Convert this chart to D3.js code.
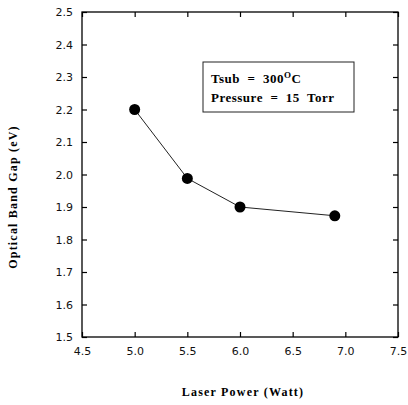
<!DOCTYPE html>
<html>
<head>
<meta charset="utf-8">
<script src="https://cdn.jsdelivr.net/npm/d3@7"></script>
<style>
  body { margin: 0; background: #fff; }
  .legend-text { white-space: pre; }
</style>
</head>
<body>
<svg id="chart"></svg>
<script>
// data
const laserPower = [5.0, 5.5, 6.0, 6.9];
const bandGap = [2.2, 1.988, 1.9, 1.873];
const xTicks = [4.5, 5.0, 5.5, 6.0, 6.5, 7.0, 7.5];
const yTicks = [1.5, 1.6, 1.7, 1.8, 1.9, 2.0, 2.1, 2.2, 2.3, 2.4, 2.5];
const legendLines = ["Tsub  =  300", "Pressure  =  15  Torr"];

const width = 408, height = 405;
const plotLeft = 82, plotRight = 398, plotTop = 12, plotBottom = 337;

const svg = d3.select("#chart").attr("width", width).attr("height", height);

const xScale = d3.scaleLinear().domain([4.5, 7.5]).range([plotLeft, plotRight]);
const yScale = d3.scaleLinear().domain([1.5, 2.5]).range([plotBottom, plotTop]);

// frame
svg.append("rect")
  .attr("x", plotLeft).attr("y", plotTop)
  .attr("width", plotRight - plotLeft).attr("height", plotBottom - plotTop)
  .attr("fill", "none").attr("stroke", "#000").attr("stroke-width", 1.3);

// axes (ticks pointing inwards)
const tickFont = "'DejaVu Sans', sans-serif";
const xAxis = d3.axisBottom(xScale).tickValues(xTicks).tickSizeInner(-5).tickSizeOuter(0)
  .tickPadding(10).tickFormat(d3.format(".1f"));
const gx = svg.append("g").attr("transform", `translate(0,${plotBottom})`).call(xAxis);

const yAxis = d3.axisLeft(yScale).tickValues(yTicks).tickSizeInner(-5).tickSizeOuter(0)
  .tickPadding(9).tickFormat(d3.format(".1f"));
const gy = svg.append("g").attr("transform", `translate(${plotLeft},0)`).call(yAxis);

const gyr = svg.append("g").attr("transform", `translate(${plotRight},0)`)
  .call(d3.axisRight(yScale).tickValues(yTicks).tickSizeInner(-5).tickSizeOuter(0).tickFormat(""));
const gxt = svg.append("g").attr("transform", `translate(0,${plotTop})`)
  .call(d3.axisTop(xScale).tickValues(xTicks).tickSizeInner(-5).tickSizeOuter(0).tickFormat(""));

[gx, gy, gyr, gxt].forEach(g => {
  g.select(".domain").remove();
  g.selectAll("line").attr("stroke", "#000").attr("stroke-width", 1.2);
  g.selectAll("text").attr("font-family", tickFont).attr("font-size", 11).attr("fill", "#111");
});

// line + markers
const line = d3.line().x((d, i) => xScale(laserPower[i])).y(d => yScale(d));
svg.append("path")
  .datum(bandGap)
  .attr("d", line)
  .attr("fill", "none").attr("stroke", "#222").attr("stroke-width", 1);

svg.selectAll(".pt")
  .data(bandGap)
  .enter()
  .append("circle")
  .attr("class", "pt")
  .attr("cx", (d, i) => xScale(laserPower[i]))
  .attr("cy", d => yScale(d))
  .attr("r", 5.5)
  .attr("fill", "#000");

// legend box
const labelFont = "'Liberation Serif', serif";
svg.append("rect")
  .attr("x", 203).attr("y", 62).attr("width", 151).attr("height", 50)
  .attr("fill", "none").attr("stroke", "#222").attr("stroke-width", 1);

const t1 = svg.append("text")
  .attr("class", "legend-text")
  .attr("x", 211).attr("y", 83)
  .attr("font-family", labelFont).attr("font-weight", "bold").attr("font-size", 13)
  .attr("letter-spacing", 0.5)
  .text(legendLines[0]);
t1.append("tspan").attr("dy", -5).attr("font-size", 9).text("O");
t1.append("tspan").attr("dy", 5).text("C");

svg.append("text")
  .attr("class", "legend-text")
  .attr("x", 211).attr("y", 102)
  .attr("font-family", labelFont).attr("font-weight", "bold").attr("font-size", 13)
  .attr("letter-spacing", 0.5)
  .text(legendLines[1]);

// axis titles
svg.append("text")
  .attr("x", 243).attr("y", 396)
  .attr("text-anchor", "middle")
  .attr("font-family", labelFont).attr("font-weight", "bold").attr("font-size", 12)
  .attr("letter-spacing", 1.2)
  .text("Laser Power (Watt)");

svg.append("text")
  .attr("transform", "translate(17,197) rotate(-90)")
  .attr("text-anchor", "middle")
  .attr("font-family", labelFont).attr("font-weight", "bold").attr("font-size", 12)
  .attr("letter-spacing", 1.2)
  .text("Optical Band Gap (eV)");
</script>
</body>
</html>
